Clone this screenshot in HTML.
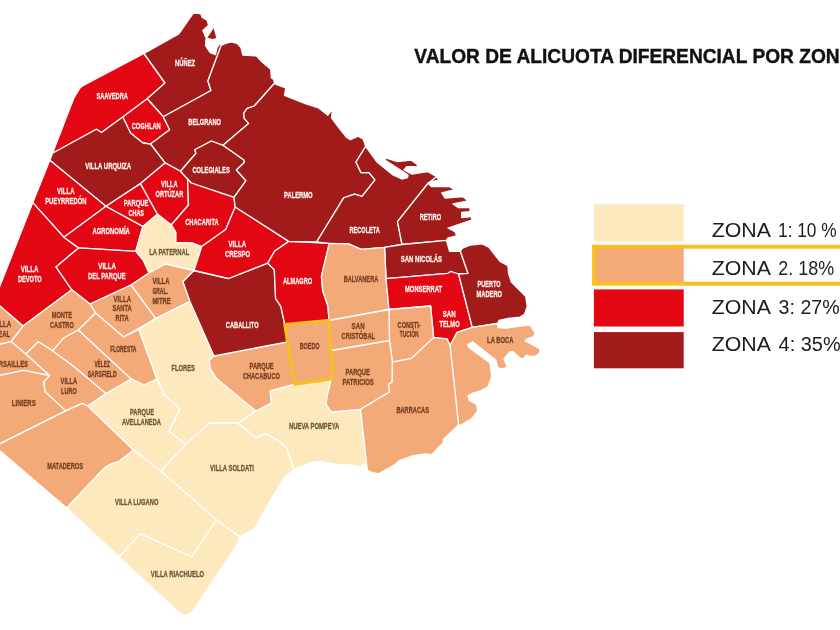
<!DOCTYPE html>
<html lang="es"><head><meta charset="utf-8"><title>Valor de alicuota diferencial por zona</title>
<style>html,body{margin:0;padding:0;background:#fff;overflow:hidden}svg{display:block}</style></head>
<body>
<svg width="840" height="630" viewBox="0 0 840 630">
<g stroke="#fff" stroke-width="1.3" stroke-linejoin="round">
<polygon fill="#E30613" points="144.0,53.5 165.0,83.0 147.2,98.8 122.8,117.0 101.5,132.5 96.4,129.3 52.5,153.2 73.7,98.4 80.0,88.0 82.5,85.8"/>
<polygon fill="#A21B1B" points="144.0,53.5 178.8,34.0 193.3,13.1 200.6,13.5 202.3,17.4 207.2,20.3 208.6,25.3 202.9,30.5 205.6,37.0 206.6,37.8 213.9,26.7 217.0,38.2 213.3,39.8 207.3,38.4 206.0,39.0 205.5,45.7 210.2,52.7 215.4,54.6 217.0,47.6 220.3,43.1 221.2,45.3 207.9,81.0 211.0,90.5 163.3,116.7 147.2,98.8 165.0,83.0"/>
<polygon fill="#E30613" points="147.2,98.8 163.3,116.7 169.7,129.8 150.5,144.0 143.0,143.0 130.5,133.0 122.8,117.0"/>
<polygon fill="#A21B1B" points="221.2,45.3 225.7,43.3 231.4,41.9 237.1,43.3 241.0,47.6 242.9,55.2 256.4,55.9 262.1,62.1 270.7,69.3 271.4,77.9 273.8,79.5 274.5,83.3 254.3,106.0 247.3,108.4 243.8,112.9 244.2,118.4 248.6,123.4 223.0,145.3 211.4,141.0 194.8,149.8 196.0,153.3 180.5,171.2 165.0,162.9 150.5,144.0 169.7,129.8 163.3,116.7 211.0,90.5 207.9,81.0"/>
<polygon fill="#A21B1B" points="52.5,153.2 96.4,129.3 101.5,132.5 122.8,117.0 130.5,133.0 143.0,143.0 150.5,144.0 165.0,162.9 140.5,183.6 106.0,206.2 49.8,160.3"/>
<polygon fill="#E30613" points="49.8,160.3 106.0,206.2 63.9,237.3 32.8,202.6"/>
<polygon fill="#E30613" points="32.8,202.6 63.9,237.3 78.6,247.9 56.0,266.9 71.8,289.8 23.0,326.0 -6.0,301.0"/>
<polygon fill="#E30613" points="106.0,206.2 63.9,237.3 78.6,247.9 135.7,251.4 142.9,226.4"/>
<polygon fill="#E30613" points="106.0,206.2 140.5,183.6 157.5,214.3 142.9,226.4"/>
<polygon fill="#E30613" points="140.5,183.6 165.0,162.9 180.5,171.2 187.6,179.0 188.5,205.0 171.2,225.0 157.5,214.3"/>
<polygon fill="#A21B1B" points="180.5,171.2 196.0,153.3 194.8,149.8 211.4,141.0 223.0,145.3 244.0,160.0 244.5,162.2 236.4,170.0 246.0,180.7 234.0,197.4 191.2,183.0 187.6,179.0"/>
<polygon fill="#E30613" points="187.6,179.0 191.2,183.0 234.0,197.4 235.2,207.0 225.7,229.5 201.7,246.5 192.3,243.2 175.7,242.6 175.7,232.0 171.2,225.0 188.5,205.0"/>
<polygon fill="#FEE9BF" points="157.5,214.3 171.2,225.0 175.7,232.0 175.7,242.6 192.3,243.2 201.7,246.5 198.6,256.4 194.0,270.5 165.4,264.0 149.0,273.0 142.9,259.8 135.7,251.4 142.9,226.4"/>
<polygon fill="#E30613" points="78.6,247.9 135.7,251.4 142.9,259.8 149.0,273.0 131.0,285.0 90.0,304.0 71.8,289.8 56.0,266.9"/>
<polygon fill="#F4A979" points="131.0,285.0 149.0,273.0 165.4,264.0 194.0,270.5 183.0,281.7 190.0,301.4 155.7,318.6"/>
<polygon fill="#F4A979" points="90.0,304.0 131.0,285.0 155.7,318.6 123.6,337.0 95.5,313.0"/>
<polygon fill="#F4A979" points="71.8,289.8 90.0,304.0 95.5,313.0 78.3,330.0 63.3,338.3 52.5,350.8 38.3,341.7 25.8,354.0 11.0,341.6 23.0,326.0"/>
<polygon fill="#F4A979" points="-6.0,301.0 23.0,326.0 11.0,341.6 -10.0,346.7 -10.0,311.0"/>
<polygon fill="#F4A979" points="-10.0,346.7 11.0,341.6 25.8,354.0 49.7,375.6 23.5,370.3 -10.0,377.5"/>
<polygon fill="#F4A979" points="-10.0,377.5 23.5,370.3 49.7,375.6 43.9,381.8 45.0,391.4 65.8,410.9 -3.0,445.3"/>
<polygon fill="#F4A979" points="25.8,354.0 38.3,341.7 52.5,350.8 73.0,365.7 106.0,393.6 87.8,406.0 82.0,403.4 65.8,410.9 45.0,391.4 43.9,381.8 49.7,375.6"/>
<polygon fill="#F4A979" points="78.3,330.0 63.3,338.3 52.5,350.8 73.0,365.7 106.0,393.6 131.3,379.0"/>
<polygon fill="#F4A979" points="95.5,313.0 123.6,337.0 138.8,329.4 157.0,379.0 144.0,385.0 131.3,379.0 78.3,330.0"/>
<polygon fill="#FEE9BF" points="155.7,318.6 190.0,301.4 214.0,356.0 209.4,360.0 210.0,368.0 217.0,379.0 256.1,411.1 238.0,423.0 209.5,423.0 185.7,444.5 169.0,431.4 179.8,408.8 164.3,394.5 157.0,379.0 138.8,329.4"/>
<polygon fill="#FEE9BF" points="106.0,393.6 131.3,379.0 144.0,385.0 157.0,379.0 164.3,394.5 179.8,408.8 169.0,431.4 185.7,444.5 161.0,471.0 133.5,450.3 87.8,406.0"/>
<polygon fill="#F4A979" points="65.8,410.9 82.0,403.4 87.8,406.0 133.5,450.3 119.0,461.5 112.0,463.5 105.0,467.5 66.7,508.0 -3.0,448.4 -3.0,445.3"/>
<polygon fill="#FEE9BF" points="133.5,450.3 161.0,471.0 216.5,519.8 191.7,557.0 140.6,533.7 119.0,557.0 66.7,508.0 105.0,467.5 112.0,463.5 119.0,461.5"/>
<polygon fill="#FEE9BF" points="119.0,557.0 140.6,533.7 191.7,557.0 216.5,519.8 239.7,536.8 238.0,543.0 191.7,612.7 185.5,615.8 179.3,612.7"/>
<polygon fill="#FEE9BF" points="185.7,444.5 209.5,423.0 238.0,423.0 255.5,437.6 265.5,433.3 277.0,439.7 286.0,447.0 291.0,460.0 293.8,469.3 283.3,479.5 273.8,494.8 254.8,528.5 250.5,531.0 239.7,536.8 216.5,519.8 161.0,471.0"/>
<polygon fill="#FEE9BF" points="256.1,411.1 271.4,402.9 270.0,391.0 295.0,384.2 331.3,378.8 327.6,394.0 326.0,404.0 331.2,412.0 360.5,409.3 367.3,469.8 366.5,466.0 364.0,463.5 362.0,465.5 361.4,466.8 351.9,465.2 336.7,464.3 319.5,461.4 311.9,462.4 302.4,466.2 293.8,469.3 291.0,460.0 286.0,447.0 277.0,439.7 265.5,433.3 255.5,437.6 238.0,423.0"/>
<polygon fill="#F4A979" points="214.0,356.0 287.5,341.8 295.0,384.2 270.0,391.0 271.4,402.9 256.1,411.1 217.0,379.0 210.0,368.0 209.4,360.0"/>
<polygon fill="#A21B1B" points="183.0,281.7 194.0,270.5 228.5,278.5 267.7,263.2 274.3,269.8 275.6,298.6 280.8,306.4 284.8,324.5 287.5,341.8 214.0,356.0 190.0,301.4"/>
<polygon fill="#E30613" points="201.7,246.5 225.7,229.5 235.2,207.0 288.8,241.4 274.8,251.0 267.7,263.2 228.5,278.5 194.0,270.5 198.6,256.4"/>
<polygon fill="#E30613" points="288.8,241.4 329.3,243.3 321.4,276.3 322.7,290.7 328.0,306.4 329.0,320.5 284.8,324.5 280.8,306.4 275.6,298.6 274.3,269.8 267.7,263.2 274.8,251.0"/>
<polygon fill="#A21B1B" points="274.5,83.3 276.0,84.3 285.7,87.9 284.5,95.5 306.0,103.8 318.6,108.0 327.9,115.2 331.4,110.7 332.4,111.5 331.5,117.8 339.5,128.6 346.7,137.5 350.5,139.6 358.2,136.2 363.3,139.3 365.7,146.4 356.0,162.0 361.0,172.6 369.0,172.6 375.0,179.8 362.0,196.4 354.6,194.2 343.6,197.9 316.6,242.0 288.8,241.4 235.2,207.0 234.0,197.4 246.0,180.7 236.4,170.0 244.5,162.2 244.0,160.0 223.0,145.3 248.6,123.4 244.2,118.4 243.8,112.9 247.3,108.4 254.3,106.0"/>
<polygon fill="#A21B1B" points="365.7,146.4 376.7,161.7 393.0,175.0 401.7,179.0 407.5,177.5 408.0,175.0 385.0,160.0 385.8,158.0 397.5,161.7 410.8,160.0 418.0,165.0 416.7,166.7 406.7,166.7 404.0,170.0 411.7,174.0 428.0,171.7 436.7,176.7 427.5,184.0 397.5,221.7 402.0,244.5 384.6,247.3 361.2,249.4 348.6,243.8 329.3,243.3 316.6,242.0 343.6,197.9 354.6,194.2 362.0,196.4 375.0,179.8 369.0,172.6 361.0,172.6 356.0,162.0"/>
<polygon fill="#A21B1B" points="436.7,176.7 439.0,180.0 428.0,183.0 431.7,186.7 450.0,186.7 454.0,190.0 441.7,193.0 445.0,198.0 463.0,196.7 468.0,200.8 453.0,204.0 458.0,207.5 470.0,207.5 470.0,211.7 461.7,212.5 461.7,217.5 471.7,216.7 471.7,220.0 448.0,228.0 455.0,231.7 456.7,236.0 448.0,238.0 446.4,240.3 402.0,244.5 397.5,221.7 427.5,184.0"/>
<polygon fill="#A21B1B" points="384.6,247.3 402.0,244.5 446.4,240.3 449.6,251.4 460.4,251.4 468.0,273.3 458.6,274.0 450.8,271.5 447.9,273.3 386.0,278.7"/>
<polygon fill="#F4A979" points="329.3,243.3 348.6,243.8 361.2,249.4 384.6,247.3 386.0,278.7 389.0,309.5 329.0,320.5 328.0,306.4 322.7,290.7 321.4,276.3"/>
<polygon fill="#E30613" points="386.0,278.7 447.9,273.3 450.8,271.5 458.6,274.0 472.3,327.3 457.1,332.3 451.3,343.3 450.0,345.2 447.0,338.8 433.6,337.6 430.6,306.0 389.0,309.5"/>
<polygon fill="#A21B1B" points="460.4,251.4 462.0,248.4 470.7,245.0 482.1,243.8 488.8,247.1 500.0,261.4 507.9,265.7 508.6,273.6 511.4,282.1 525.7,296.4 527.3,306.4 524.5,314.3 520.0,317.1 507.1,318.6 499.0,320.5 497.5,323.5 472.3,327.3 458.6,274.0 468.0,273.3"/>
<polygon fill="#F4A979" points="457.1,332.3 472.3,327.3 497.5,323.5 498.0,327.5 506.7,328.0 521.7,325.8 530.0,325.0 535.0,333.0 534.0,336.7 526.7,339.0 525.0,340.8 540.0,349.0 540.0,352.5 536.7,355.8 530.0,356.7 526.7,355.0 523.0,359.0 520.0,358.0 513.0,351.7 510.0,351.7 504.0,359.0 507.5,367.5 501.7,369.0 497.5,367.5 495.8,360.0 472.5,341.7 467.5,345.0 469.0,347.5 490.0,363.0 491.7,376.7 488.0,386.7 481.4,390.5 473.8,392.9 468.1,395.7 469.0,400.5 476.7,404.3 477.6,411.0 471.9,418.6 460.5,425.2 458.6,425.0 450.0,345.2 451.3,343.3"/>
<polygon fill="#F4A979" points="389.0,309.5 430.6,306.0 433.6,337.6 411.6,358.3 392.4,362.1 389.5,340.5"/>
<polygon fill="#F4A979" points="392.4,362.1 411.6,358.3 433.6,337.6 447.0,338.8 450.0,345.2 458.6,425.0 443.3,439.5 443.3,443.3 439.5,446.2 431.9,454.8 426.2,453.8 412.9,455.7 399.5,460.5 393.8,465.2 378.6,473.8 370.0,471.9 367.3,469.8 360.5,409.3 389.5,391.7 388.3,384.5 392.0,382.0"/>
<polygon fill="#F4A979" points="330.7,350.5 389.5,340.5 392.4,362.1 392.0,382.0 388.3,384.5 389.5,391.7 360.5,409.3 331.2,412.0 326.0,404.0 327.6,394.0 331.3,378.8 333.0,370.5"/>
<polygon fill="#F4A979" points="329.0,320.5 389.0,309.5 389.5,340.5 330.7,350.5"/>
<polygon fill="#F4A979" points="284.8,324.5 329.0,320.5 330.7,350.5 333.0,370.5 331.3,378.8 295.0,384.2 287.5,341.8"/>
</g>
<polygon fill="none" stroke="#F8BE22" stroke-width="3.1" stroke-linejoin="miter" points="284.8,324.5 329.0,320.5 330.7,350.5 333.0,370.5 331.3,378.8 295.0,384.2 287.5,341.8"/>
<g font-family="'Liberation Sans', sans-serif" font-weight="bold" font-size="9.3" stroke-width="0.3">
<text x="175.0" y="66.3" textLength="20.2" lengthAdjust="spacingAndGlyphs" fill="#FDF3EA" stroke="#FDF3EA">NÚÑEZ</text>
<text x="96.4" y="98.5" textLength="31.5" lengthAdjust="spacingAndGlyphs" fill="#FDF3EA" stroke="#FDF3EA">SAAVEDRA</text>
<text x="131.7" y="129.4" textLength="29.0" lengthAdjust="spacingAndGlyphs" fill="#FDF3EA" stroke="#FDF3EA">COGHLAN</text>
<text x="188.3" y="125.1" textLength="32.7" lengthAdjust="spacingAndGlyphs" fill="#FDF3EA" stroke="#FDF3EA">BELGRANO</text>
<text x="192.4" y="172.6" textLength="37.4" lengthAdjust="spacingAndGlyphs" fill="#FDF3EA" stroke="#FDF3EA">COLEGIALES</text>
<text x="161.0" y="187.0" textLength="16.6" lengthAdjust="spacingAndGlyphs" fill="#FDF3EA" stroke="#FDF3EA">VILLA</text>
<text x="155.5" y="197.0" textLength="27.8" lengthAdjust="spacingAndGlyphs" fill="#FDF3EA" stroke="#FDF3EA">ORTÚZAR</text>
<text x="284.0" y="197.6" textLength="28.6" lengthAdjust="spacingAndGlyphs" fill="#FDF3EA" stroke="#FDF3EA">PALERMO</text>
<text x="185.2" y="225.0" textLength="33.4" lengthAdjust="spacingAndGlyphs" fill="#FDF3EA" stroke="#FDF3EA">CHACARITA</text>
<text x="228.6" y="247.0" textLength="17.4" lengthAdjust="spacingAndGlyphs" fill="#FDF3EA" stroke="#FDF3EA">VILLA</text>
<text x="225.0" y="256.8" textLength="25.0" lengthAdjust="spacingAndGlyphs" fill="#FDF3EA" stroke="#FDF3EA">CRESPO</text>
<text x="149.2" y="254.7" textLength="40.1" lengthAdjust="spacingAndGlyphs" fill="#6B5A3A" stroke="#6B5A3A">LA PATERNAL</text>
<text x="85.2" y="169.2" textLength="45.8" lengthAdjust="spacingAndGlyphs" fill="#FDF3EA" stroke="#FDF3EA">VILLA URQUIZA</text>
<text x="57.1" y="193.9" textLength="17.4" lengthAdjust="spacingAndGlyphs" fill="#FDF3EA" stroke="#FDF3EA">VILLA</text>
<text x="45.2" y="204.0" textLength="41.2" lengthAdjust="spacingAndGlyphs" fill="#FDF3EA" stroke="#FDF3EA">PUEYRREDÓN</text>
<text x="123.8" y="205.8" textLength="24.5" lengthAdjust="spacingAndGlyphs" fill="#FDF3EA" stroke="#FDF3EA">PARQUE</text>
<text x="128.6" y="215.6" textLength="15.4" lengthAdjust="spacingAndGlyphs" fill="#FDF3EA" stroke="#FDF3EA">CHAS</text>
<text x="92.4" y="233.8" textLength="37.4" lengthAdjust="spacingAndGlyphs" fill="#FDF3EA" stroke="#FDF3EA">AGRONOMÍA</text>
<text x="98.3" y="269.4" textLength="17.7" lengthAdjust="spacingAndGlyphs" fill="#FDF3EA" stroke="#FDF3EA">VILLA</text>
<text x="88.1" y="279.2" textLength="37.4" lengthAdjust="spacingAndGlyphs" fill="#FDF3EA" stroke="#FDF3EA">DEL PARQUE</text>
<text x="20.7" y="271.8" textLength="17.9" lengthAdjust="spacingAndGlyphs" fill="#FDF3EA" stroke="#FDF3EA">VILLA</text>
<text x="17.9" y="281.6" textLength="23.8" lengthAdjust="spacingAndGlyphs" fill="#FDF3EA" stroke="#FDF3EA">DEVOTO</text>
<text x="152.4" y="283.7" textLength="17.1" lengthAdjust="spacingAndGlyphs" fill="#753F1F" stroke="#753F1F">VILLA</text>
<text x="152.4" y="293.9" textLength="15.5" lengthAdjust="spacingAndGlyphs" fill="#753F1F" stroke="#753F1F">GRAL.</text>
<text x="152.4" y="303.9" textLength="18.3" lengthAdjust="spacingAndGlyphs" fill="#753F1F" stroke="#753F1F">MITRE</text>
<text x="113.6" y="301.6" textLength="17.4" lengthAdjust="spacingAndGlyphs" fill="#753F1F" stroke="#753F1F">VILLA</text>
<text x="112.4" y="311.4" textLength="19.3" lengthAdjust="spacingAndGlyphs" fill="#753F1F" stroke="#753F1F">SANTA</text>
<text x="115.5" y="321.2" textLength="13.1" lengthAdjust="spacingAndGlyphs" fill="#753F1F" stroke="#753F1F">RITA</text>
<text x="51.7" y="317.8" textLength="20.4" lengthAdjust="spacingAndGlyphs" fill="#753F1F" stroke="#753F1F">MONTE</text>
<text x="50.0" y="327.6" textLength="23.8" lengthAdjust="spacingAndGlyphs" fill="#753F1F" stroke="#753F1F">CASTRO</text>
<text x="110.2" y="351.8" textLength="26.2" lengthAdjust="spacingAndGlyphs" fill="#753F1F" stroke="#753F1F">FLORESTA</text>
<text x="94.4" y="367.1" textLength="15.6" lengthAdjust="spacingAndGlyphs" fill="#753F1F" stroke="#753F1F">VÉLEZ</text>
<text x="87.7" y="376.8" textLength="29.0" lengthAdjust="spacingAndGlyphs" fill="#753F1F" stroke="#753F1F">SARSFIELD</text>
<text x="171.4" y="370.9" textLength="23.6" lengthAdjust="spacingAndGlyphs" fill="#6B5A3A" stroke="#6B5A3A">FLORES</text>
<text x="-9.0" y="366.8" textLength="37.0" lengthAdjust="spacingAndGlyphs" fill="#753F1F" stroke="#753F1F">VERSAILLES</text>
<text x="-6.5" y="327.2" textLength="17.7" lengthAdjust="spacingAndGlyphs" fill="#753F1F" stroke="#753F1F">VILLA</text>
<text x="-6.0" y="336.8" textLength="16.0" lengthAdjust="spacingAndGlyphs" fill="#753F1F" stroke="#753F1F">REAL</text>
<text x="60.6" y="383.7" textLength="16.5" lengthAdjust="spacingAndGlyphs" fill="#753F1F" stroke="#753F1F">VILLA</text>
<text x="61.0" y="393.8" textLength="15.7" lengthAdjust="spacingAndGlyphs" fill="#753F1F" stroke="#753F1F">LURO</text>
<text x="11.8" y="406.2" textLength="24.0" lengthAdjust="spacingAndGlyphs" fill="#753F1F" stroke="#753F1F">LINIERS</text>
<text x="129.9" y="415.4" textLength="24.1" lengthAdjust="spacingAndGlyphs" fill="#6B5A3A" stroke="#6B5A3A">PARQUE</text>
<text x="122.0" y="425.2" textLength="39.0" lengthAdjust="spacingAndGlyphs" fill="#6B5A3A" stroke="#6B5A3A">AVELLANEDA</text>
<text x="47.2" y="468.6" textLength="35.8" lengthAdjust="spacingAndGlyphs" fill="#753F1F" stroke="#753F1F">MATADEROS</text>
<text x="249.5" y="369.2" textLength="24.2" lengthAdjust="spacingAndGlyphs" fill="#753F1F" stroke="#753F1F">PARQUE</text>
<text x="242.9" y="378.7" textLength="37.0" lengthAdjust="spacingAndGlyphs" fill="#753F1F" stroke="#753F1F">CHACABUCO</text>
<text x="210.1" y="471.2" textLength="43.9" lengthAdjust="spacingAndGlyphs" fill="#6B5A3A" stroke="#6B5A3A">VILLA SOLDATI</text>
<text x="115.0" y="504.9" textLength="43.5" lengthAdjust="spacingAndGlyphs" fill="#6B5A3A" stroke="#6B5A3A">VILLA LUGANO</text>
<text x="150.8" y="576.8" textLength="53.3" lengthAdjust="spacingAndGlyphs" fill="#6B5A3A" stroke="#6B5A3A">VILLA RIACHUELO</text>
<text x="289.0" y="428.6" textLength="50.3" lengthAdjust="spacingAndGlyphs" fill="#6B5A3A" stroke="#6B5A3A">NUEVA POMPEYA</text>
<text x="349.5" y="233.2" textLength="30.3" lengthAdjust="spacingAndGlyphs" fill="#FDF3EA" stroke="#FDF3EA">RECOLETA</text>
<text x="282.9" y="283.9" textLength="29.4" lengthAdjust="spacingAndGlyphs" fill="#FDF3EA" stroke="#FDF3EA">ALMAGRO</text>
<text x="343.7" y="281.8" textLength="34.6" lengthAdjust="spacingAndGlyphs" fill="#753F1F" stroke="#753F1F">BALVANERA</text>
<text x="225.8" y="328.4" textLength="32.8" lengthAdjust="spacingAndGlyphs" fill="#FDF3EA" stroke="#FDF3EA">CABALLITO</text>
<text x="299.7" y="348.9" textLength="19.9" lengthAdjust="spacingAndGlyphs" fill="#753F1F" stroke="#753F1F">BOEDO</text>
<text x="351.6" y="329.4" textLength="13.0" lengthAdjust="spacingAndGlyphs" fill="#753F1F" stroke="#753F1F">SAN</text>
<text x="341.6" y="339.4" textLength="33.5" lengthAdjust="spacingAndGlyphs" fill="#753F1F" stroke="#753F1F">CRISTÓBAL</text>
<text x="345.5" y="375.2" textLength="24.4" lengthAdjust="spacingAndGlyphs" fill="#753F1F" stroke="#753F1F">PARQUE</text>
<text x="342.4" y="384.8" textLength="31.4" lengthAdjust="spacingAndGlyphs" fill="#753F1F" stroke="#753F1F">PATRICIOS</text>
<text x="400.8" y="262.4" textLength="41.3" lengthAdjust="spacingAndGlyphs" fill="#FDF3EA" stroke="#FDF3EA">SAN NICOLÁS</text>
<text x="405.0" y="291.8" textLength="37.1" lengthAdjust="spacingAndGlyphs" fill="#FDF3EA" stroke="#FDF3EA">MONSERRAT</text>
<text x="477.5" y="287.4" textLength="23.1" lengthAdjust="spacingAndGlyphs" fill="#FDF3EA" stroke="#FDF3EA">PUERTO</text>
<text x="476.4" y="296.8" textLength="25.7" lengthAdjust="spacingAndGlyphs" fill="#FDF3EA" stroke="#FDF3EA">MADERO</text>
<text x="442.8" y="317.1" textLength="12.8" lengthAdjust="spacingAndGlyphs" fill="#FDF3EA" stroke="#FDF3EA">SAN</text>
<text x="439.4" y="326.8" textLength="20.3" lengthAdjust="spacingAndGlyphs" fill="#FDF3EA" stroke="#FDF3EA">TELMO</text>
<text x="397.6" y="327.8" textLength="23.1" lengthAdjust="spacingAndGlyphs" fill="#753F1F" stroke="#753F1F">CONSTI-</text>
<text x="399.7" y="337.4" textLength="18.9" lengthAdjust="spacingAndGlyphs" fill="#753F1F" stroke="#753F1F">TUCIÓN</text>
<text x="487.1" y="343.2" textLength="26.4" lengthAdjust="spacingAndGlyphs" fill="#753F1F" stroke="#753F1F">LA BOCA</text>
<text x="419.7" y="220.1" textLength="21.5" lengthAdjust="spacingAndGlyphs" fill="#FDF3EA" stroke="#FDF3EA">RETIRO</text>
<text x="396.4" y="413.1" textLength="32.6" lengthAdjust="spacingAndGlyphs" fill="#753F1F" stroke="#753F1F">BARRACAS</text>
</g>
<rect x="593.9" y="204.3" width="89.8" height="37.1" fill="#FEE9BF"/>
<rect x="594.5" y="247" width="89.2" height="36" fill="#F4A979"/>
<rect x="593.9" y="289.4" width="89.8" height="37.1" fill="#E30613"/>
<rect x="593.9" y="332.1" width="89.8" height="36.2" fill="#A21B1B"/>
<rect x="594.1" y="246.7" width="260" height="37" fill="none" stroke="#F8BE22" stroke-width="4"/>
<g font-family="'Liberation Sans', sans-serif" font-size="19.3" fill="#1d1d1b">
<text x="711.7" y="236.8" textLength="59.2" lengthAdjust="spacingAndGlyphs">ZONA</text>
<text x="778.0" y="236.8" textLength="58.7" lengthAdjust="spacingAndGlyphs">1: 10 %</text>
<text x="711.7" y="274.8" textLength="59.2" lengthAdjust="spacingAndGlyphs">ZONA</text>
<text x="778.3" y="274.8" textLength="55.9" lengthAdjust="spacingAndGlyphs">2. 18%</text>
<text x="711.7" y="313.5" textLength="59.2" lengthAdjust="spacingAndGlyphs">ZONA</text>
<text x="778.6" y="313.5" textLength="61.0" lengthAdjust="spacingAndGlyphs">3: 27%</text>
<text x="711.7" y="351.3" textLength="59.2" lengthAdjust="spacingAndGlyphs">ZONA</text>
<text x="778.6" y="351.3" textLength="62.0" lengthAdjust="spacingAndGlyphs">4: 35%</text>
</g>
<text x="414.3" y="62.9" stroke="#111" stroke-width="0.4" textLength="439.2" lengthAdjust="spacingAndGlyphs" font-family="'Liberation Sans', sans-serif" font-weight="bold" font-size="20.3" fill="#111">VALOR DE ALICUOTA DIFERENCIAL POR ZONA</text>
</svg>
</body></html>
